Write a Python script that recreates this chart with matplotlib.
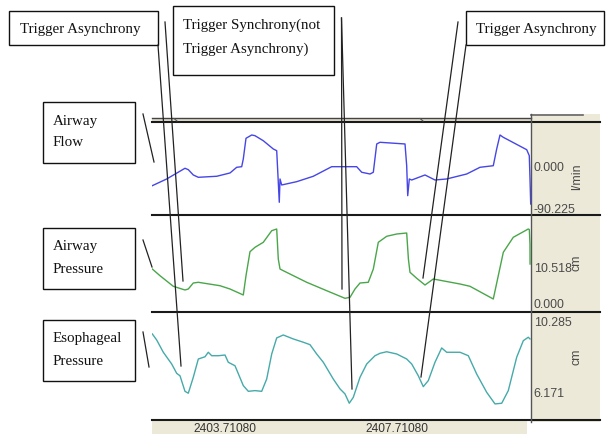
import matplotlib
matplotlib.use("Agg")
import matplotlib.pyplot as plt
from matplotlib.patches import Rectangle
import numpy as np

# ---------------- data ----------------
T0 = 2402.013          # time at left edge of the traces (s)
T_SPAN = 8.814         # visible time window (s)
x_tick_values = [2403.71080, 2407.71080]
x_tick_labels = ["2403.71080", "2407.71080"]

flow_t = [0.007, 0.342, 0.767, 0.844, 0.960, 1.077, 1.505, 1.814, 1.970, 2.086,
          2.123, 2.186, 2.319, 2.395, 2.588, 2.821, 2.900, 2.937, 2.960, 2.977,
          3.016, 3.365, 3.751, 4.179, 4.760, 4.877, 5.070, 5.147, 5.226, 5.302,
          5.884, 5.923, 5.947, 5.984, 6.040, 6.349, 6.581, 6.853, 7.319, 7.628,
          7.937, 8.016, 8.093, 8.170, 8.714, 8.774, 8.791, 8.807]
flow_v = [-42.3, -27.9, -4.9, -7.9, -19.3, -24.3, -22.1, -15.0, -2.8, -1.5,
          15.0, 59.5, 66.6, 65.1, 54.3, 36.5, 32.9, -35.0, -78.0, -27.9,
          -40.8, -33.7, -22.1, -1.5, -1.5, -13.5, -17.2, -13.5, 47.3, 50.9,
          47.3, 0.6, -63.8, -27.9, -30.1, -19.3, -30.1, -27.9, -17.2, -2.8,
          0.6, 36.5, 66.6, 61.6, 35.0, 22.1, -27.9, -81.6]

paw_t = [0.007, 0.186, 0.495, 0.767, 0.844, 0.960, 1.077, 1.581, 1.814, 2.123,
         2.186, 2.279, 2.395, 2.588, 2.784, 2.900, 2.937, 2.977, 3.053, 3.598,
         4.063, 4.488, 4.605, 4.721, 4.837, 5.030, 5.147, 5.263, 5.458, 5.691,
         5.923, 5.963, 6.000, 6.156, 6.349, 6.542, 7.163, 7.395, 7.937, 8.053,
         8.170, 8.402, 8.751, 8.775, 8.790, 8.792]
paw_v = [9.64, 7.68, 4.59, 3.51, 3.80, 5.55, 5.76, 4.76, 3.80, 2.05,
         7.68, 14.70, 15.98, 17.44, 20.83, 21.33, 12.56, 9.64, 9.15, 5.76,
         3.30, 1.08, 1.37, 3.80, 5.55, 5.76, 9.64, 17.44, 19.20, 19.87,
         20.16, 12.56, 8.68, 6.93, 4.97, 6.72, 5.26, 4.59, 0.88, 7.68,
         14.52, 18.91, 21.33, 21.18, 17.0, 11.1]

pes_t = [0.007, 0.109, 0.263, 0.458, 0.574, 0.651, 0.767, 0.844, 0.960, 1.077,
         1.233, 1.309, 1.388, 1.542, 1.698, 1.774, 1.930, 2.123, 2.240, 2.395,
         2.551, 2.667, 2.784, 2.900, 3.053, 3.286, 3.519, 3.674, 3.830, 3.984,
         4.216, 4.372, 4.488, 4.588, 4.681, 4.837, 4.993, 5.186, 5.302, 5.458,
         5.691, 5.923, 6.040, 6.193, 6.309, 6.426, 6.581, 6.737, 6.853, 7.163,
         7.356, 7.551, 7.784, 7.977, 8.133, 8.286, 8.481, 8.635, 8.751, 8.791]
pes_v = [9.53, 9.18, 8.47, 7.79, 7.25, 7.11, 6.21, 6.10, 7.02, 8.08,
         8.21, 8.47, 8.27, 8.27, 8.31, 7.89, 7.69, 6.54, 6.21, 6.25,
         6.21, 6.92, 8.37, 9.30, 9.47, 9.24, 9.05, 8.91, 8.37, 7.89,
         6.92, 6.35, 6.06, 5.52, 5.86, 7.02, 7.79, 8.27, 8.41, 8.50,
         8.37, 8.08, 7.79, 7.11, 6.48, 6.83, 7.89, 8.72, 8.47, 8.47,
         8.27, 7.21, 6.15, 5.48, 5.52, 6.25, 8.18, 9.14, 9.34, 9.24]

flow_ticks = [0.0, -90.225]
paw_ticks = [10.518, 0.0]
pes_ticks = [10.285, 6.171]

# ---------------- figure ----------------
W, H = 608, 435
fig = plt.figure(figsize=(W / 100, H / 100), dpi=100)
fig.patch.set_facecolor("white")

BEIGE = "#ece9d8"
LINE = "#1a1a1a"
SERIF = ["Liberation Serif", "DejaVu Serif"]
SANS = ["Liberation Sans", "DejaVu Sans"]


def axes_px(x0, y0, x1, y1, z=1):
    ax = fig.add_axes([x0 / W, 1 - y1 / H, (x1 - x0) / W, (y1 - y0) / H], zorder=z)
    ax.patch.set_alpha(0)
    for s in ax.spines.values():
        s.set_visible(False)
    return ax


XL, XR = 152, 531
ax_flow = axes_px(XL, 123, XR, 216)
ax_paw = axes_px(XL, 216, XR, 313)
ax_pes = axes_px(XL, 313, XR, 421)

tf = T0 + np.array(flow_t)
tp = T0 + np.array(paw_t)
te = T0 + np.array(pes_t)

ax_flow.plot(tf, flow_v, color="#4646e6", lw=1.0)
ax_paw.plot(tp, paw_v, color="#4aa64a", lw=1.0)
ax_pes.plot(te, pes_v, color="#46aaaa", lw=1.0)

ax_flow.set_ylim(-105.3, 94.5)
ax_paw.set_ylim(-2.92, 25.42)
ax_pes.set_ylim(4.55, 10.80)

for ax, ticks in [(ax_flow, flow_ticks), (ax_paw, paw_ticks), (ax_pes, pes_ticks)]:
    ax.set_xlim(T0, T0 + T_SPAN)
    ax.yaxis.tick_right()
    ax.set_yticks(ticks)
    ax.set_yticklabels([f"{v:.3f}" for v in ticks], fontsize=8.9,
                       color="#4a4a4a", family=SANS)
    ax.tick_params(axis="y", length=0, pad=2)
    ax.set_xticks([])

ax_pes.set_xticks(x_tick_values)
ax_pes.set_xticklabels(x_tick_labels, fontsize=8.6, color="#333333", family=SANS)
ax_pes.tick_params(axis="x", length=0, pad=1.5)

# ---------------- overlay decorations ----------------
ov = fig.add_axes([0, 0, 1, 1], zorder=0)
ov.set_xlim(0, W)
ov.set_ylim(H, 0)
ov.axis("off")

# beige panels
ov.add_patch(Rectangle((531, 115), 69, 308, facecolor=BEIGE, edgecolor="none"))
ov.add_patch(Rectangle((152, 421), 375, 14, facecolor=BEIGE, edgecolor="none"))
ov.add_patch(Rectangle((152, 119), 379, 4, facecolor="#e2dfcf", edgecolor="none"))
ov.plot([531, 583], [115.5, 115.5], color="#666666", lw=1.2)

# frame lines
ov.plot([152, 531], [119, 119], color="#444444", lw=1.0)
for y in (123, 216, 313, 421):
    ov.plot([152, 600], [y, y], color=LINE, lw=1.5)
ov.plot([531, 531], [115, 423], color="#555555", lw=1.0)
ov.plot([174, 177], [119.5, 122], color="#555555", lw=0.8)
ov.plot([420, 423], [119.5, 122], color="#555555", lw=0.8)

# units
for y, u in [(177, "l/min"), (263, "cm"), (357, "cm")]:
    ov.text(577, y, u, rotation=90, ha="center", va="center", fontsize=8.9,
            color="#4a4a4a", family=SANS)

# annotation boxes
boxes = [
    ((9, 12, 158, 46), [(20, 30, "Trigger Asynchrony")]),
    ((173, 7, 334, 76), [(183, 25, "Trigger Synchrony(not"), (183, 49, "Trigger Asynchrony)")]),
    ((466, 12, 604, 46), [(476, 30, "Trigger Asynchrony")]),
    ((43, 103, 135, 164), [(53, 122, "Airway"), (53, 143, "Flow")]),
    ((43, 229, 135, 290), [(53, 247, "Airway"), (53, 270, "Pressure")]),
    ((43, 321, 135, 382), [(53, 339, "Esophageal"), (53, 362, "Pressure")]),
]
for (x0, y0, x1, y1), texts in boxes:
    ov.add_patch(Rectangle((x0, y0), x1 - x0, y1 - y0, facecolor="white",
                           edgecolor="#111111", lw=1.0, zorder=3))
    for tx, ty, s in texts:
        ov.text(tx, ty, s, ha="left", va="center", fontsize=10.8,
                family=SERIF, color="#111111", zorder=4)

# pointer lines (drawn on top)
top = fig.add_axes([0, 0, 1, 1], zorder=5)
top.set_xlim(0, W)
top.set_ylim(H, 0)
top.axis("off")
top.patch.set_alpha(0)
pointers = [
    ((158, 46), (181, 367)),
    ((165, 23), (183, 282)),
    ((341.5, 19), (342, 290)),
    ((341.5, 19), (352, 390)),
    ((458, 23), (423, 279)),
    ((466, 46), (421, 378)),
    ((143, 115), (154, 163)),
    ((143, 241), (152, 268)),
    ((143, 333), (149, 368)),
]
for (x0, y0), (x1, y1) in pointers:
    top.plot([x0, x1], [y0, y1], color="#222222", lw=0.9)

fig.savefig("out.png", dpi=100)
